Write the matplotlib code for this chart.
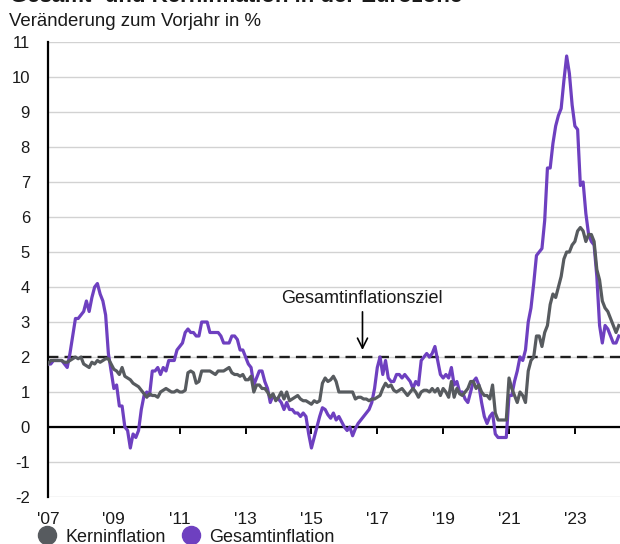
import numpy as np
import matplotlib
matplotlib.use("Agg")
import matplotlib.pyplot as plt
from matplotlib.lines import Line2D

plt.rcParams['font.family'] = ['Liberation Sans', 'DejaVu Sans']

# ---------------- data (monthly, Jan 2007 - May 2024, % y/y) ----------------
start_year = 2007
gesamtinflation = [
    1.8, 1.8, 1.9, 1.9, 1.9, 1.9, 1.8, 1.7, 2.1, 2.6, 3.1, 3.1,      # 2007
    3.2, 3.3, 3.6, 3.3, 3.7, 4.0, 4.1, 3.8, 3.6, 3.2, 2.1, 1.6,      # 2008
    1.1, 1.2, 0.6, 0.6, 0.0, -0.1, -0.6, -0.2, -0.3, -0.1, 0.5, 0.9, # 2009
    1.0, 0.9, 1.6, 1.6, 1.7, 1.5, 1.7, 1.6, 1.9, 1.9, 1.9, 2.2,      # 2010
    2.3, 2.4, 2.7, 2.8, 2.7, 2.7, 2.6, 2.6, 3.0, 3.0, 3.0, 2.7,      # 2011
    2.7, 2.7, 2.7, 2.6, 2.4, 2.4, 2.4, 2.6, 2.6, 2.5, 2.2, 2.2,      # 2012
    2.0, 1.8, 1.7, 1.2, 1.4, 1.6, 1.6, 1.3, 1.1, 0.7, 0.9, 0.8,      # 2013
    0.8, 0.7, 0.5, 0.7, 0.5, 0.5, 0.4, 0.4, 0.3, 0.4, 0.3, -0.2,     # 2014
    -0.6, -0.3, 0.0, 0.3, 0.55, 0.5, 0.35, 0.25, 0.4, 0.2, 0.3, 0.15,  # 2015
    0.0, -0.1, 0.0, -0.25, -0.05, 0.1, 0.2, 0.3, 0.4, 0.5, 0.7, 1.1,   # 2016
    1.7, 2.0, 1.5, 1.9, 1.4, 1.3, 1.3, 1.5, 1.5, 1.4, 1.5, 1.4,      # 2017
    1.3, 1.1, 1.3, 1.2, 1.9, 2.0, 2.1, 2.0, 2.1, 2.3, 1.9, 1.5,      # 2018
    1.4, 1.5, 1.4, 1.7, 1.2, 1.3, 1.0, 1.0, 0.8, 0.7, 1.0, 1.3,      # 2019
    1.4, 1.2, 0.7, 0.3, 0.1, 0.3, 0.4, -0.2, -0.3, -0.3, -0.3, -0.3, # 2020
    0.9, 0.9, 1.3, 1.6, 2.0, 1.9, 2.2, 3.0, 3.4, 4.1, 4.9, 5.0,      # 2021
    5.1, 5.9, 7.4, 7.4, 8.1, 8.6, 8.9, 9.1, 9.9, 10.6, 10.1, 9.2,    # 2022
    8.6, 8.5, 6.9, 7.0, 6.1, 5.5, 5.3, 5.2, 4.3, 2.9, 2.4, 2.9,      # 2023
    2.8, 2.6, 2.4, 2.4, 2.6,                                         # 2024
]
kerninflation = [
    1.8, 1.9, 1.9, 1.9, 1.9, 1.9, 1.85, 1.85, 1.9, 1.95, 2.0, 1.95,  # 2007
    2.0, 1.8, 1.75, 1.7, 1.85, 1.8, 1.9, 1.85, 1.9, 1.95, 1.95, 1.8, # 2008
    1.65, 1.6, 1.5, 1.7, 1.45, 1.4, 1.35, 1.25, 1.2, 1.15, 1.05, 0.95,  # 2009
    0.85, 0.95, 0.9, 0.9, 0.85, 1.0, 1.05, 1.1, 1.05, 1.0, 1.0, 1.05,   # 2010
    1.0, 1.0, 1.05, 1.55, 1.6, 1.55, 1.25, 1.3, 1.6, 1.6, 1.6, 1.6,     # 2011
    1.55, 1.5, 1.6, 1.6, 1.6, 1.65, 1.7, 1.55, 1.5, 1.5, 1.45, 1.5,     # 2012
    1.35, 1.35, 1.45, 1.0, 1.2, 1.2, 1.1, 1.1, 1.0, 0.85, 0.95, 0.75,   # 2013
    0.85, 1.0, 0.8, 1.0, 0.75, 0.8, 0.85, 0.9, 0.8, 0.75, 0.75, 0.7,    # 2014
    0.65, 0.75, 0.7, 0.75, 1.25, 1.4, 1.3, 1.35, 1.45, 1.3, 1.0, 1.0,   # 2015
    1.0, 1.0, 1.0, 1.0, 0.8, 0.85, 0.85, 0.8, 0.8, 0.75, 0.8, 0.8,      # 2016
    0.85, 0.9, 1.1, 1.25, 1.15, 1.2, 1.05, 1.0, 1.05, 1.1, 1.0, 0.9,    # 2017
    1.0, 1.1, 1.0, 0.85, 1.0, 1.05, 1.05, 1.0, 1.1, 1.0, 1.1, 0.9,      # 2018
    1.1, 1.0, 0.85, 1.3, 0.85, 1.1, 0.95, 0.9, 1.0, 1.1, 1.3, 1.3,      # 2019
    1.1, 1.2, 1.0, 0.9, 0.9, 0.8, 1.2, 0.4, 0.2, 0.2, 0.2, 0.2,         # 2020
    1.4, 1.1, 0.9, 0.7, 1.0, 0.9, 0.7, 1.6, 1.9, 2.0, 2.6, 2.6,         # 2021
    2.3, 2.7, 2.9, 3.5, 3.8, 3.7, 4.0, 4.3, 4.8, 5.0, 5.0, 5.2,         # 2022
    5.3, 5.6, 5.7, 5.6, 5.3, 5.5, 5.5, 5.3, 4.5, 4.2, 3.6, 3.4,         # 2023
    3.3, 3.1, 2.9, 2.7, 2.9,                                            # 2024
]
inflationsziel = 2.0
tick_years = [2007, 2009, 2011, 2013, 2015, 2017, 2019, 2021, 2023]
tick_labels = ["'07", "'09", "'11", "'13", "'15", "'17", "'19", "'21", "'23"]
y_ticks = list(range(-2, 12))
series_names = ["Kerninflation", "Gesamtinflation"]

title = "Gesamt- und Kerninflation in der Eurozone"
subtitle = "Veränderung zum Vorjahr in %"
annotation_text = "Gesamtinflationsziel"

# ---------------- styling ----------------
PURPLE = "#6e40c0"
GRAY = "#575b5f"
TEXT = "#1a1a1a"

W, H = 620, 544
fig = plt.figure(figsize=(W / 100, H / 100), dpi=100)
ax = fig.add_axes([48 / W, 47 / H, (W - 48) / W, 455 / H])

n = len(gesamtinflation)
x = start_year + np.arange(n) / 12.0

ax.set_xlim(2007.0, 2007.0 + (W - 48) / 32.93)
ax.set_ylim(-2, 11)

# gridlines
ax.set_yticks(y_ticks)
ax.set_yticklabels([str(v) for v in y_ticks])
ax.yaxis.grid(True, color="#d2d2d2", linewidth=1.0)
ax.set_axisbelow(True)

for s in ["top", "right", "bottom"]:
    ax.spines[s].set_visible(False)
ax.spines["left"].set_color("black")
ax.spines["left"].set_linewidth(1.6)

ax.tick_params(axis="y", length=0, pad=13, labelsize=12, labelcolor=TEXT)
ax.set_xticks(tick_years)
ax.set_xticklabels(tick_labels)
ax.tick_params(axis="x", length=0, pad=11, labelsize=12.5, labelcolor=TEXT)

# zero line with ticks
ax.axhline(0, color="black", linewidth=1.6, zorder=2)
sec = ax.secondary_xaxis(0, transform=ax.transData)
sec.set_xticks(tick_years)
sec.set_xticklabels([])
sec.tick_params(axis="x", length=5, width=1.4, color="black", direction="out")
sec.spines["bottom"].set_visible(False)

# target line
ax.axhline(inflationsziel, color="#1e1e1e", linewidth=1.7,
           linestyle=(0, (4.4, 2.6)), zorder=2)

# series
ax.plot(x, gesamtinflation, color=PURPLE, linewidth=2.3, zorder=3,
        solid_joinstyle="round")
ax.plot(x, kerninflation, color=GRAY, linewidth=2.3, zorder=4,
        solid_joinstyle="round")

# annotation
ax.annotate("", xy=(2016.55, 2.2), xytext=(2016.55, 3.29),
            arrowprops=dict(arrowstyle="->", color="black", lw=1.2,
                            mutation_scale=18, shrinkA=0, shrinkB=0))
ax.text(2016.53, 3.66, annotation_text, ha="center", va="center",
        fontsize=13, color=TEXT)

# titles
fig.text(10 / W, 1 - 2.5 / H, title, fontsize=16, fontweight="bold",
         va="baseline", ha="left", color=TEXT)
fig.text(9 / W, 1 - 26.5 / H, subtitle, fontsize=13.4, va="baseline",
         ha="left", color=TEXT)

# legend
handles = [Line2D([], [], marker="o", linestyle="none", markersize=13,
                  color=GRAY),
           Line2D([], [], marker="o", linestyle="none", markersize=13,
                  color=PURPLE)]
fig.legend(handles, series_names, loc="center left",
           bbox_to_anchor=(38 / W, 1 - 537 / H), ncol=2, frameon=False,
           fontsize=13, handlelength=1.0, handletextpad=0.5,
           columnspacing=0.9, borderpad=0, borderaxespad=0,
           labelcolor=TEXT)

fig.savefig("out.png", dpi=100)
